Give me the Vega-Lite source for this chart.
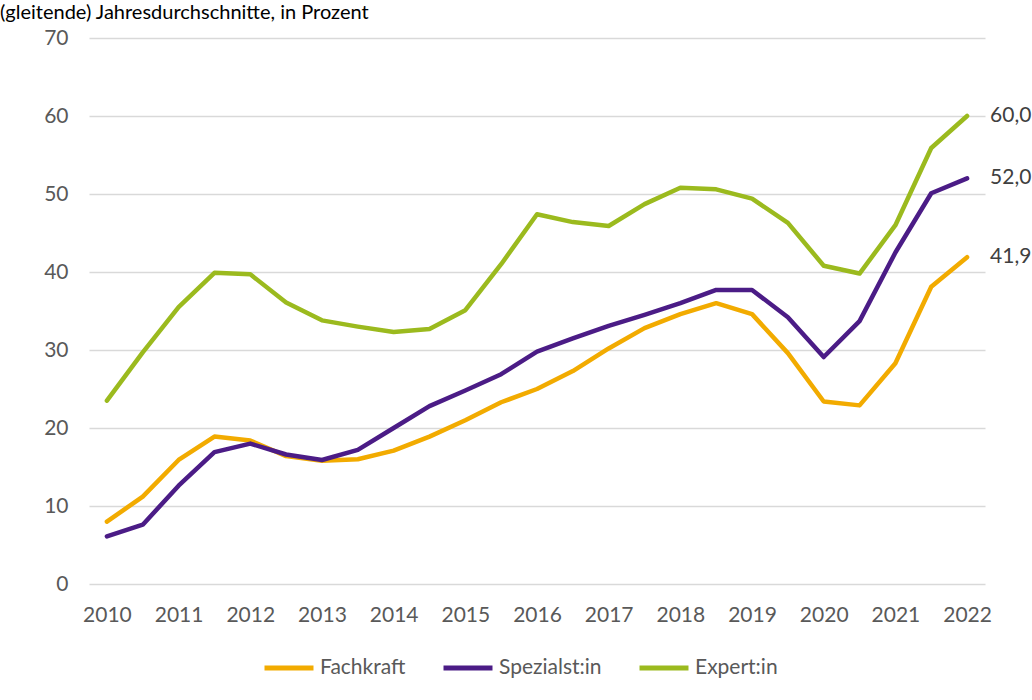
{
  "$schema": "https://vega.github.io/schema/vega-lite/v6.json",
  "width": 896,
  "height": 546,
  "autosize": {"type": "none"},
  "padding": {"left": 89, "top": 38, "right": 47, "bottom": 116},
  "background": "white",
  "title": {"text": "(gleitende) Jahresdurchschnitte, in Prozent", "anchor": "start", "frame": "group", "dx": -89, "offset": 4, "fontSize": 20, "fontWeight": "normal", "color": "#000000", "font": "Lato"},
  "config": {
    "locale": {"number": {"decimal": ",", "thousands": ".", "grouping": [3], "currency": ["", " €"]}},
    "view": {"stroke": null},
    "font": "Lato"
  },
  "data": {"values": [
    {"year": 2010, "series": "Fachkraft", "value": 8.0},
    {"year": 2010.5, "series": "Fachkraft", "value": 11.2},
    {"year": 2011, "series": "Fachkraft", "value": 15.9},
    {"year": 2011.5, "series": "Fachkraft", "value": 18.9},
    {"year": 2012, "series": "Fachkraft", "value": 18.4},
    {"year": 2012.5, "series": "Fachkraft", "value": 16.4},
    {"year": 2013, "series": "Fachkraft", "value": 15.8},
    {"year": 2013.5, "series": "Fachkraft", "value": 16.0},
    {"year": 2014, "series": "Fachkraft", "value": 17.1},
    {"year": 2014.5, "series": "Fachkraft", "value": 18.9},
    {"year": 2015, "series": "Fachkraft", "value": 21.0},
    {"year": 2015.5, "series": "Fachkraft", "value": 23.3},
    {"year": 2016, "series": "Fachkraft", "value": 25.0},
    {"year": 2016.5, "series": "Fachkraft", "value": 27.3},
    {"year": 2017, "series": "Fachkraft", "value": 30.2},
    {"year": 2017.5, "series": "Fachkraft", "value": 32.8},
    {"year": 2018, "series": "Fachkraft", "value": 34.6},
    {"year": 2018.5, "series": "Fachkraft", "value": 36.0},
    {"year": 2019, "series": "Fachkraft", "value": 34.6},
    {"year": 2019.5, "series": "Fachkraft", "value": 29.6},
    {"year": 2020, "series": "Fachkraft", "value": 23.4},
    {"year": 2020.5, "series": "Fachkraft", "value": 22.9},
    {"year": 2021, "series": "Fachkraft", "value": 28.3},
    {"year": 2021.5, "series": "Fachkraft", "value": 38.1},
    {"year": 2022, "series": "Fachkraft", "value": 41.9},
    {"year": 2010, "series": "Spezialst:in", "value": 6.1},
    {"year": 2010.5, "series": "Spezialst:in", "value": 7.6},
    {"year": 2011, "series": "Spezialst:in", "value": 12.6},
    {"year": 2011.5, "series": "Spezialst:in", "value": 16.9},
    {"year": 2012, "series": "Spezialst:in", "value": 18.0},
    {"year": 2012.5, "series": "Spezialst:in", "value": 16.6},
    {"year": 2013, "series": "Spezialst:in", "value": 15.9},
    {"year": 2013.5, "series": "Spezialst:in", "value": 17.2},
    {"year": 2014, "series": "Spezialst:in", "value": 20.0},
    {"year": 2014.5, "series": "Spezialst:in", "value": 22.8},
    {"year": 2015, "series": "Spezialst:in", "value": 24.8},
    {"year": 2015.5, "series": "Spezialst:in", "value": 26.9},
    {"year": 2016, "series": "Spezialst:in", "value": 29.8},
    {"year": 2016.5, "series": "Spezialst:in", "value": 31.5},
    {"year": 2017, "series": "Spezialst:in", "value": 33.1},
    {"year": 2017.5, "series": "Spezialst:in", "value": 34.5},
    {"year": 2018, "series": "Spezialst:in", "value": 36.0},
    {"year": 2018.5, "series": "Spezialst:in", "value": 37.7},
    {"year": 2019, "series": "Spezialst:in", "value": 37.7},
    {"year": 2019.5, "series": "Spezialst:in", "value": 34.2},
    {"year": 2020, "series": "Spezialst:in", "value": 29.1},
    {"year": 2020.5, "series": "Spezialst:in", "value": 33.7},
    {"year": 2021, "series": "Spezialst:in", "value": 42.5},
    {"year": 2021.5, "series": "Spezialst:in", "value": 50.1},
    {"year": 2022, "series": "Spezialst:in", "value": 52.0},
    {"year": 2010, "series": "Expert:in", "value": 23.5},
    {"year": 2010.5, "series": "Expert:in", "value": 29.7},
    {"year": 2011, "series": "Expert:in", "value": 35.5},
    {"year": 2011.5, "series": "Expert:in", "value": 39.9},
    {"year": 2012, "series": "Expert:in", "value": 39.7},
    {"year": 2012.5, "series": "Expert:in", "value": 36.1},
    {"year": 2013, "series": "Expert:in", "value": 33.8},
    {"year": 2013.5, "series": "Expert:in", "value": 33.0},
    {"year": 2014, "series": "Expert:in", "value": 32.3},
    {"year": 2014.5, "series": "Expert:in", "value": 32.7},
    {"year": 2015, "series": "Expert:in", "value": 35.1},
    {"year": 2015.5, "series": "Expert:in", "value": 41.0},
    {"year": 2016, "series": "Expert:in", "value": 47.4},
    {"year": 2016.5, "series": "Expert:in", "value": 46.4},
    {"year": 2017, "series": "Expert:in", "value": 45.9},
    {"year": 2017.5, "series": "Expert:in", "value": 48.7},
    {"year": 2018, "series": "Expert:in", "value": 50.8},
    {"year": 2018.5, "series": "Expert:in", "value": 50.6},
    {"year": 2019, "series": "Expert:in", "value": 49.4},
    {"year": 2019.5, "series": "Expert:in", "value": 46.3},
    {"year": 2020, "series": "Expert:in", "value": 40.8},
    {"year": 2020.5, "series": "Expert:in", "value": 39.8},
    {"year": 2021, "series": "Expert:in", "value": 46.0},
    {"year": 2021.5, "series": "Expert:in", "value": 55.9},
    {"year": 2022, "series": "Expert:in", "value": 60.0}
  ]},
  "encoding": {
    "x": {"field": "year", "type": "quantitative",
      "scale": {"domain": [2009.75, 2022.25], "nice": false, "zero": false},
      "axis": {"title": null, "values": [2010,2011,2012,2013,2014,2015,2016,2017,2018,2019,2020,2021,2022], "format": "d", "grid": false, "domain": false, "ticks": false, "labelFontSize": 21, "labelColor": "#595959", "labelPadding": 20, "labelFlush": false}},
    "y": {"field": "value", "type": "quantitative",
      "scale": {"domain": [0, 70], "nice": false},
      "axis": {"title": null, "values": [0,10,20,30,40,50,60,70], "format": "d", "grid": true, "gridColor": "#d9d9d9", "gridWidth": 1.5, "domain": false, "ticks": false, "labelFontSize": 21, "labelColor": "#595959", "labelPadding": 21}},
    "color": {"field": "series", "type": "nominal",
      "scale": {"domain": ["Fachkraft", "Spezialst:in", "Expert:in"], "range": ["#F2AB00", "#4B1C86", "#9BBA1E"]},
      "legend": {"title": null, "orient": "none", "legendX": 173, "legendY": 603, "direction": "horizontal", "symbolType": "stroke", "symbolStrokeWidth": 5, "symbolSize": 2400, "labelFontSize": 21, "labelColor": "#595959", "labelOffset": 4, "columnPadding": 27}}
  },
  "layer": [
    {"mark": {"type": "line", "strokeWidth": 4.5, "strokeCap": "round", "strokeJoin": "round"}},
    {"transform": [{"filter": "datum.year == 2022"}],
     "mark": {"type": "text", "align": "left", "baseline": "middle", "dx": 23, "fontSize": 21, "color": "#404040"},
     "encoding": {"text": {"field": "value", "type": "quantitative", "format": ".1f"}, "color": {"value": "#404040"}}}
  ]
}
